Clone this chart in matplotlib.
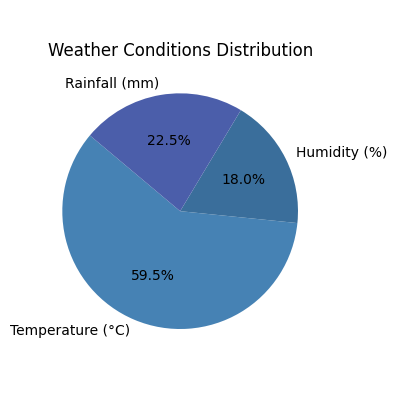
import matplotlib
matplotlib.use('Agg')
import matplotlib.pyplot as plt

labels = ['Temperature (°C)', 'Humidity (%)', 'Rainfall (mm)']
shares = [59.5, 18.0, 22.5]
colors = ['#4682b4', '#3a6e9b', '#4b5eaa']

fig, ax = plt.subplots(figsize=(4, 4), dpi=100)
ax.pie(shares, labels=labels, colors=colors, autopct='%1.1f%%', startangle=140)
ax.set_title('Weather Conditions Distribution')
plt.tight_layout()
plt.savefig('out.png')
